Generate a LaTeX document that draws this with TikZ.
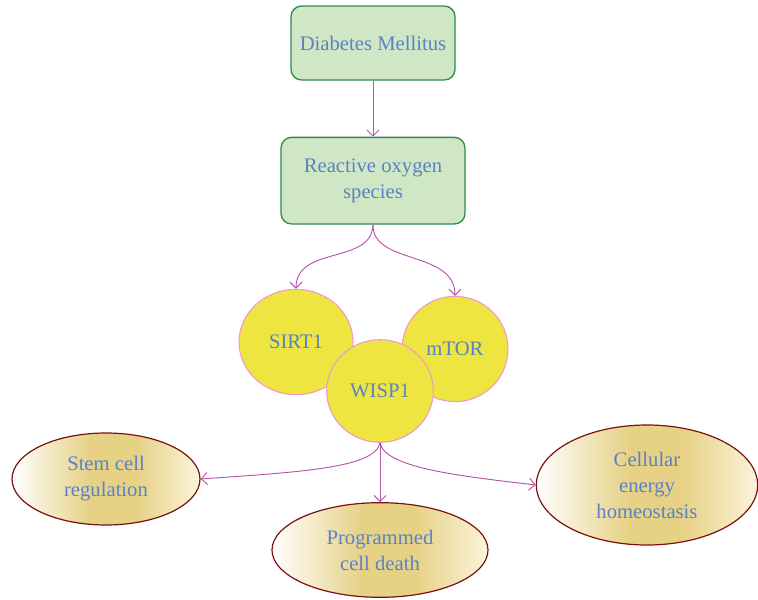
\documentclass[tikz,border=0pt]{standalone}
\usepackage{fontspec}
\setmainfont{Liberation Serif}
\usepackage{xcolor}
\usepackage{tikz}
\usetikzlibrary{positioning,shapes.geometric,arrows.meta}
\definecolor{boxfill}{HTML}{CFE7C4}
\definecolor{boxline}{HTML}{2F8A4E}
\definecolor{labelblue}{HTML}{5A82C4}
\definecolor{linkpink}{HTML}{B754A8}
\definecolor{bubblefill}{HTML}{EEE540}
\definecolor{bubbleline}{HTML}{EE9BC9}
\definecolor{ovalline}{HTML}{7A1014}
\definecolor{goldmid}{HTML}{E6D185}
\definecolor{goldright}{HTML}{FBF4DA}
\pgfdeclarehorizontalshading{goldband}{100bp}{color(0bp)=(white); color(25bp)=(white); color(46bp)=(goldmid); color(58bp)=(goldmid); color(75bp)=(goldright); color(100bp)=(goldright)}
\tikzstyle{block} = [draw=boxline, fill=boxfill, rectangle, rounded corners=8pt, line width=1pt, text=labelblue, align=center]
\tikzstyle{bubble} = [ellipse, draw=bubbleline, fill=bubblefill, line width=0.8pt, text=labelblue, inner sep=0pt]
\tikzstyle{oval} = [ellipse, draw=ovalline, shading=goldband, line width=0.9pt, text=labelblue, align=center, inner sep=0pt]
\tikzstyle{link} = [draw=linkpink, line width=0.7pt, -{Straight Barb[length=4.5pt,width=9pt]}]

\begin{document}
\begin{tikzpicture}[x=0.75pt, y=-0.75pt, font=\fontsize{15.5}{19.5}\selectfont]
		\useasboundingbox (0,0) rectangle (758,600);

		\node [block, minimum width=123pt, minimum height=55.5pt] (diabetes) at (373,43) {Diabetes Mellitus};
		\node [block, minimum width=138pt, minimum height=65pt, below=42pt of diabetes] (ros) {Reactive oxygen\\species};

		\node [bubble, minimum width=85.5pt, minimum height=79pt] (sirt1) at (296,342) {SIRT1};
		\node [bubble, minimum width=79.5pt, minimum height=79pt] (mtor) at (455,349) {mTOR};
		\node [bubble, minimum width=80pt, minimum height=77pt] (wisp1) at (380,391) {WISP1};

		\node [oval, minimum width=141pt, minimum height=69pt] (stem) at (106,479) {Stem cell\\regulation};
		\node [oval, minimum width=162pt, minimum height=71pt] (death) at (380,550) {Programmed\\cell death};
		\node [oval, minimum width=166pt, minimum height=90pt] (energy) at (647,485) {Cellular\\energy\\homeostasis};

		\draw [link] (diabetes.south) -- (ros.north);
		\draw [link] (ros.south) .. controls (372,265) and (296,245) .. (sirt1.north);
		\draw [link] (ros.south) .. controls (372,265) and (455,250) .. (mtor.north);
		\draw [link] (wisp1.south) .. controls (375,468) and (300,472) .. (stem.east);
		\draw [link] (wisp1.south) -- (death.north);
		\draw [link] (wisp1.south) .. controls (385,468) and (460,476) .. (energy.west);
	\end{tikzpicture}
\end{document}
